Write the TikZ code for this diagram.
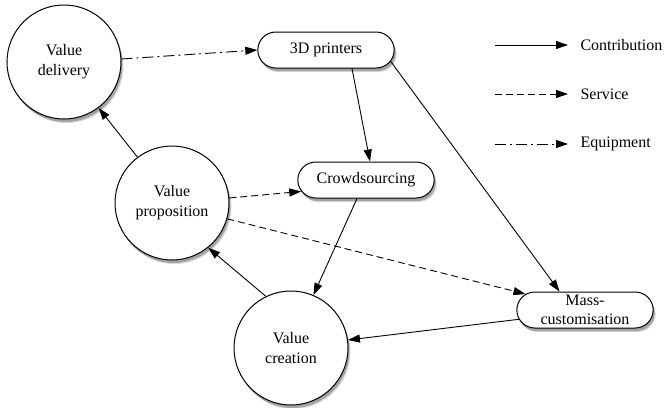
\documentclass[tikz,border=0pt]{standalone}
\usepackage{fontspec}
\setmainfont{Liberation Serif}
\usetikzlibrary{shapes.misc,shadows,arrows.meta}

\begin{document}
\begin{tikzpicture}[x=1pt, y=-1pt, auto,
	every node/.style={font=\fontsize{16}{20}\selectfont},
	soft/.style={drop shadow={shadow xshift=1.5pt, shadow yshift=-3pt, opacity=0.25, fill=black},
		drop shadow={shadow xshift=2.5pt, shadow yshift=-4pt, opacity=0.15, fill=black}},
	value/.style={draw, circle, fill=white, line width=1pt, minimum size=114pt, inner sep=0pt, align=center, soft},
	actor/.style={draw, rounded rectangle, fill=white, line width=1pt, minimum width=143pt, minimum height=36pt, inner ysep=0pt, align=center, soft},
	flow/.style={-{Triangle[length=12pt,width=8pt]}, line width=0.9pt},
	service/.style={flow, dash pattern=on 7pt off 4pt},
	equip/.style={flow, dash pattern=on 11pt off 4pt on 2pt off 4pt}]
	\useasboundingbox (0,0) rectangle (664,407);

	% value circles
	\node[value](Delivery) at (64,62){Value\\delivery};
	\node[value](Proposition) at (172,203){Value\\proposition};
	\node[value](Creation) at (291,348){Value\\creation};

	% actors
	\node[actor](Printers) at (326,50){3D printers};
	\node[actor](Crowd) at (366,180){Crowdsourcing};
	\node[actor, font=\fontsize{16}{19}\selectfont](Mass) at (585,310){Mass-\\customisation};

	\draw[equip] (Delivery.3) -- (Printers.west);
	\draw[flow] ([xshift=26]Printers.south) -- ([xshift=4]Crowd.north);
	\draw[flow] (Printers.-10) -- (Mass.144);
	\draw[flow] ([xshift=-9]Crowd.south) -- (Creation.67);
	\draw[service] (Proposition.5) -- (Crowd.190);
	\draw[service] (Proposition.-16) -- (Mass.165);
	\draw[flow] (Mass.188) -- (Creation.8);
	\draw[flow] (Creation.116) -- (Proposition.-51);
	\draw[flow] (Proposition.127) -- (Delivery.-53);

	% legend
	\coordinate (ContribA) at (495,45);
	\coordinate (ContribB) at (568,45);
	\coordinate (ServiceA) at (495,94);
	\coordinate (ServiceB) at (568,94);
	\coordinate (EquipA) at (495,144);
	\coordinate (EquipB) at (568,144);
	\draw[flow] (ContribA) -- (ContribB);
	\draw[service] (ServiceA) -- (ServiceB);
	\draw[equip] (EquipA) -- (EquipB);
	\node[anchor=west](ContribText) at (577,45){Contribution};
	\node[anchor=west](ServiceText) at (577,94){Service};
	\node[anchor=west](EquipText) at (577,144){Equipment};
\end{tikzpicture}
\end{document}
